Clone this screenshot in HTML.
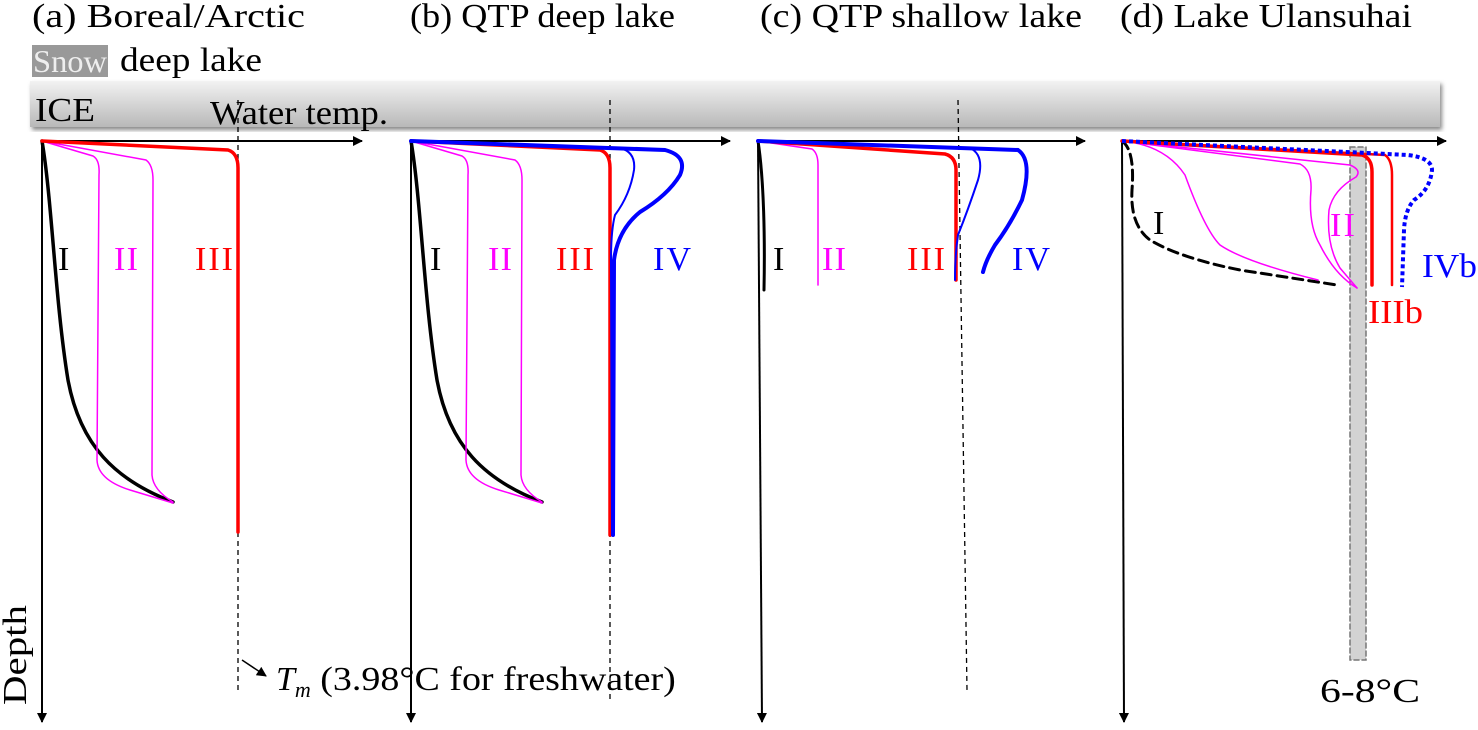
<!DOCTYPE html>
<html><head><meta charset="utf-8"><style>
body{margin:0;background:#fff}
svg{display:block;font-family:"Liberation Serif",serif}
</style></head><body>
<svg width="1478" height="730" viewBox="0 0 1478 730" xmlns="http://www.w3.org/2000/svg">
<defs>
<linearGradient id="g" x1="0" y1="0" x2="0" y2="1"><stop offset="0" stop-color="#f2f2f2"/><stop offset="1" stop-color="#b8b8b8"/></linearGradient>
<filter id="sh"><feDropShadow dx="2" dy="3" stdDeviation="2" flood-color="#888"/></filter>
<marker id="ar" markerWidth="10" markerHeight="10" refX="9" refY="5" orient="auto" markerUnits="userSpaceOnUse"><path d="M0,0 L10,5 L0,10 z" fill="#000"/></marker>
</defs>
<g font-size="34" fill="#000">
<text x="32" y="27" textLength="273" lengthAdjust="spacingAndGlyphs">(a)  Boreal/Arctic</text>
<text x="410" y="27" textLength="265" lengthAdjust="spacingAndGlyphs">(b)  QTP deep lake</text>
<text x="760" y="27" textLength="322" lengthAdjust="spacingAndGlyphs">(c)  QTP shallow lake</text>
<text x="1120" y="27" textLength="292" lengthAdjust="spacingAndGlyphs">(d)  Lake Ulansuhai</text>
</g>
<rect x="32" y="45" width="76" height="32" fill="#999"/>
<text x="33" y="72" font-size="32" fill="#eee" textLength="74" lengthAdjust="spacingAndGlyphs">Snow</text>
<text x="120" y="71" font-size="34" textLength="142" lengthAdjust="spacingAndGlyphs">deep lake</text>
<rect x="30" y="81" width="1410" height="46" fill="url(#g)" filter="url(#sh)"/>
<text x="35" y="121" font-size="34" textLength="60" lengthAdjust="spacingAndGlyphs">ICE</text>
<text x="210" y="124" font-size="34" textLength="178" lengthAdjust="spacingAndGlyphs">Water temp.</text>
<g stroke="#000" stroke-width="1.3" stroke-dasharray="5,4" fill="none">
<line x1="238" y1="100" x2="238" y2="690"/><line x1="610" y1="100" x2="610" y2="700"/><line x1="958" y1="100" x2="967" y2="690"/>
</g>
<g stroke="#000" stroke-width="2" fill="none" marker-end="url(#ar)">
<line x1="42" y1="141" x2="362" y2="141"/><line x1="42" y1="141" x2="42" y2="722"/>
<line x1="411" y1="141" x2="730" y2="141"/><line x1="411" y1="141" x2="411" y2="722"/>
<line x1="758" y1="141" x2="1085" y2="141"/><line x1="758" y1="141" x2="762" y2="722"/>
<line x1="1122" y1="141" x2="1446" y2="141"/><line x1="1122" y1="141" x2="1124" y2="722"/>
</g>
<g fill="none" stroke-linecap="round">
<path d="M42,141 C52,200 55,300 68,380 C80,445 115,480 173,502" stroke="#000" stroke-width="3.5"/>
<path d="M42,141 L93,156 Q100,160 99,175 L97,460 Q98,480 130,490 L173,503" stroke="#f0f" stroke-width="1.5"/>
<path d="M42,141 L146,160 Q153,165 153,180 L152,475 Q153,490 173,502" stroke="#f0f" stroke-width="1.5"/>
<path d="M42,141 L228,150 Q238,153 238,168 L238,532" stroke="#f00" stroke-width="3.5"/>
<path d="M411,141 C421,200 424,300 437,380 C449,445 484,480 542,502" stroke="#000" stroke-width="3.5"/>
<path d="M411,141 L462,156 Q469,160 468,175 L466,460 Q467,480 499,490 L542,503" stroke="#f0f" stroke-width="1.5"/>
<path d="M411,141 L515,160 Q522,165 522,180 L521,475 Q522,490 542,502" stroke="#f0f" stroke-width="1.5"/>
<path d="M411,141 L600,150 Q610,153 610,168 L610,535" stroke="#f00" stroke-width="3.5"/>
<path d="M411,141 L620,148 Q636,152 634,170 Q630,195 615,215 Q611,230 611,260 L612,535" stroke="#00f" stroke-width="2"/>
<path d="M411,141 L665,150 Q688,156 680,175 Q668,195 640,212 Q618,230 614,260 L613,535" stroke="#00f" stroke-width="4"/>
<path d="M758,141 C764,180 765,240 764,290" stroke="#000" stroke-width="3"/>
<path d="M758,141 L812,149 Q818,153 818,165 L818,285" stroke="#f0f" stroke-width="1.5"/>
<path d="M758,141 L945,154 Q956,157 956,170 L956,280" stroke="#f00" stroke-width="3.5"/>
<path d="M758,141 L970,148 Q985,155 978,180 Q968,210 958,235 Q955,255 955,280" stroke="#00f" stroke-width="2"/>
<path d="M758,141 L1018,150 Q1033,160 1022,200 Q1010,225 995,245 Q986,260 983,272" stroke="#00f" stroke-width="4"/>
<rect x="1350" y="147" width="16" height="513" fill="#d3d3d3" stroke="#777" stroke-width="1.5" stroke-dasharray="5,3"/>
<path d="M1122,141 Q1135,150 1132,190 Q1130,225 1150,240 Q1180,258 1240,270 L1337,285" stroke="#000" stroke-width="3" stroke-dasharray="10,6"/>
<path d="M1122,141 Q1165,145 1185,175 Q1205,230 1220,245 Q1245,262 1318,280" stroke="#f0f" stroke-width="1.5"/>
<path d="M1122,141 L1300,164 Q1312,170 1311,190 Q1308,225 1320,245 Q1335,275 1357,288" stroke="#f0f" stroke-width="1.5"/>
<path d="M1122,141 L1350,165 Q1362,170 1356,177 Q1333,190 1329,210 Q1326,245 1340,268 L1357,288" stroke="#f0f" stroke-width="1.5"/>
<path d="M1122,141 L1362,155 Q1372,158 1372,172 L1372,285" stroke="#f00" stroke-width="3.5"/>
<path d="M1122,141 L1385,155 Q1392,160 1392,175 L1392,285" stroke="#f00" stroke-width="2.5"/>
<path d="M1122,141 L1408,155 Q1432,158 1432,170 Q1430,190 1414,200 Q1405,210 1404,230 L1402,287" stroke="#00f" stroke-width="4" stroke-dasharray="4,3" stroke-linecap="butt"/>
</g>
<g font-size="34">
<text x="58" y="270">I</text><text x="114" y="270" fill="#f0f" textLength="24">II</text><text x="195" y="270" fill="#f00" textLength="38">III</text>
<text x="430" y="270">I</text><text x="488" y="270" fill="#f0f" textLength="24">II</text><text x="556" y="270" fill="#f00" textLength="38">III</text><text x="653" y="270" fill="#00f" textLength="38">IV</text>
<text x="773" y="270">I</text><text x="822" y="270" fill="#f0f" textLength="24">II</text><text x="907" y="270" fill="#f00" textLength="38">III</text><text x="1012" y="270" fill="#00f" textLength="38">IV</text>
<text x="1153" y="234">I</text><text x="1330" y="236" fill="#f0f" textLength="25">II</text><text x="1368" y="323" fill="#f00" textLength="55" lengthAdjust="spacingAndGlyphs">IIIb</text><text x="1422" y="277" fill="#00f" textLength="55" lengthAdjust="spacingAndGlyphs">IVb</text>
<text x="1320" y="702" textLength="100" lengthAdjust="spacingAndGlyphs">6-8°C</text>
<text transform="translate(26,705) rotate(-90)" textLength="100" lengthAdjust="spacingAndGlyphs">Depth</text>
<text x="276" y="690"><tspan font-style="italic">T</tspan><tspan font-style="italic" font-size="22" dy="7">m</tspan><tspan dy="-7" textLength="365" lengthAdjust="spacingAndGlyphs"> (3.98°C for freshwater)</tspan></text>
</g>
<line x1="242" y1="660" x2="266" y2="676" stroke="#000" stroke-width="1.5" marker-end="url(#ar)"/>
</svg>
</body></html>
